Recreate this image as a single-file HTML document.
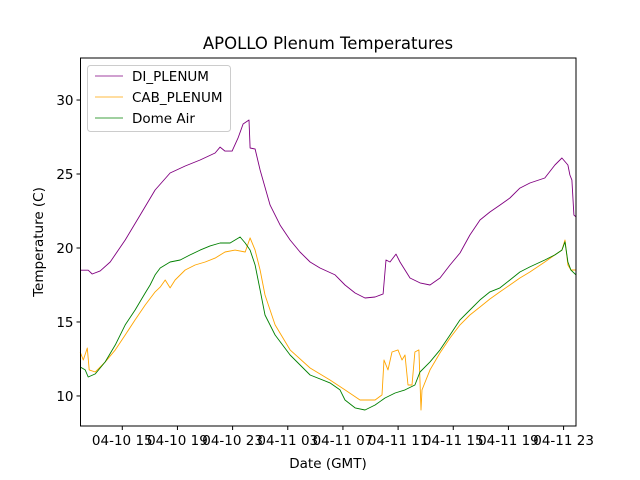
<!DOCTYPE html>
<html><head><meta charset="utf-8"><style>
body{margin:0;background:#fff}
svg{display:block;font-family:"DejaVu Sans","Liberation Sans",sans-serif}
</style></head><body>
<svg id="chart" width="640" height="480">
<rect width="640" height="480" fill="#fff"/>
<text x="328" y="49" text-anchor="middle" font-size="16.5">APOLLO Plenum Temperatures</text>
<g id="marks"></g>
<g id="axes"></g>
<text x="328" y="468" text-anchor="middle" font-size="13.5">Date (GMT)</text>
<text transform="translate(43,242) rotate(-90)" text-anchor="middle" font-size="13.5">Temperature (C)</text>
<g>
<rect x="87.5" y="65.5" width="143" height="66" rx="3" fill="#fff" fill-opacity="0.8" stroke="#ccc"/>
<g><line x1="95" y1="76" x2="123" y2="76" stroke="purple" stroke-width="0.8"/><text x="132" y="81" font-size="13.5">DI_PLENUM</text></g>
<g><line x1="95" y1="97" x2="123" y2="97" stroke="orange" stroke-width="0.8"/><text x="132" y="102" font-size="13.5">CAB_PLENUM</text></g>
<g><line x1="95" y1="118" x2="123" y2="118" stroke="green" stroke-width="0.8"/><text x="132" y="123" font-size="13.5">Dome Air</text></g>
</g>
</svg>
<script>
const diHours=[11.95,12.53,12.82,13.4,14.12,15.21,16.3,17.38,18.47,19.56,20.64,21.73,22.09,22.45,22.96,23.39,23.76,24.19,24.27,24.63,24.99,25.72,26.44,27.17,27.89,28.62,29.34,30.43,31.15,31.88,32.6,33.33,33.91,34.12,34.41,34.85,35.14,35.86,36.59,37.31,38.04,38.76,39.49,40.21,40.94,41.66,42.38,43.11,43.83,44.56,45.64,46.37,46.88,47.31,47.46,47.6,47.75,47.9];
const diTemps=[18.5,18.5,18.24,18.45,19.05,20.54,22.23,23.92,25.07,25.54,25.95,26.42,26.82,26.55,26.55,27.43,28.38,28.65,26.76,26.69,25.27,22.9,21.55,20.54,19.73,19.05,18.65,18.18,17.5,16.96,16.62,16.69,16.89,19.19,19.05,19.59,19.05,17.97,17.64,17.5,17.97,18.85,19.66,20.88,21.89,22.43,22.9,23.38,24.05,24.39,24.73,25.61,26.08,25.61,24.93,24.59,22.23,22.1];
const cabHours=[11.95,12.17,12.46,12.6,13.04,13.76,14.49,15.21,15.93,16.66,17.38,17.75,18.11,18.47,18.83,19.56,20.28,21.01,21.73,22.45,23.18,23.91,24.27,24.63,24.99,25.35,26.08,27.17,28.62,30.06,31.15,32.24,33.33,33.83,33.98,34.27,34.56,34.99,35.28,35.5,35.72,36.01,36.22,36.51,36.66,36.73,37.31,38.04,38.76,39.49,40.21,40.94,41.66,42.38,43.11,43.83,44.56,45.64,46.37,46.88,47.1,47.31,47.53,47.9];
const cabTemps=[12.97,12.43,13.24,11.76,11.62,12.3,13.11,14.12,15.14,16.15,17.03,17.36,17.84,17.3,17.84,18.51,18.85,19.05,19.32,19.73,19.86,19.73,20.68,19.86,18.51,16.82,14.8,13.11,11.89,11.08,10.41,9.73,9.73,10.07,12.43,11.76,12.97,13.11,12.43,12.77,10.74,10.74,12.97,13.11,9.05,10.41,11.76,12.91,13.92,14.8,15.47,16.01,16.55,17.03,17.5,17.97,18.38,19.05,19.53,19.86,20.54,18.85,18.51,18.51];
const domeHours=[11.95,12.31,12.53,13.04,13.76,14.49,15.21,15.93,16.66,17.02,17.38,17.75,18.47,19.2,19.92,20.64,21.37,22.09,22.82,23.54,23.91,24.27,24.63,24.99,25.35,26.08,27.17,28.62,30.06,30.79,31.15,31.88,32.6,33.33,34.05,34.78,35.5,36.22,36.59,37.31,38.04,38.76,39.49,40.21,40.94,41.66,42.38,43.11,43.83,44.56,45.64,46.37,46.88,47.1,47.31,47.53,47.9];
const domeTemps=[11.96,11.76,11.28,11.49,12.3,13.45,14.8,15.81,16.96,17.5,18.18,18.65,19.05,19.19,19.53,19.86,20.14,20.34,20.34,20.74,20.34,19.86,18.85,17.16,15.47,14.12,12.77,11.42,10.88,10.41,9.73,9.19,9.05,9.39,9.86,10.2,10.41,10.74,11.62,12.3,13.11,14.12,15.14,15.81,16.49,17.03,17.3,17.84,18.38,18.72,19.19,19.53,19.86,20.41,19.05,18.51,18.18];
const xTickHours=[15,19,23,27,31,35,39,43,47];
const xTickLabels=["04-10 15","04-10 19","04-10 23","04-11 03","04-11 07","04-11 11","04-11 15","04-11 19","04-11 23"];
const yTicks=[10,15,20,25,30];

const L=80.5,R=576,T=58,B=426,X0=11.97,X1=47.9,Y0=7.97,Y1=32.84;
const sx=h=>L+(h-X0)/(X1-X0)*(R-L);
const sy=v=>B-(v-Y0)/(Y1-Y0)*(B-T);
const NS="http://www.w3.org/2000/svg";
const marks=document.getElementById('marks'),axes=document.getElementById('axes');
function mk(tag,attrs,parent){const e=document.createElementNS(NS,tag);for(const k in attrs)e.setAttribute(k,attrs[k]);parent.appendChild(e);return e;}
function series(hs,vs,color,name){
  const p=mk('polyline',{points:hs.map((h,i)=>sx(h).toFixed(1)+','+sy(vs[i]).toFixed(1)).join(' '),fill:'none',stroke:color,'stroke-width':0.9,'stroke-linejoin':'round'},marks);
  
  
}
series(diHours,diTemps,'purple','di-plenum-line');
series(cabHours,cabTemps,'orange','cab-plenum-line');
series(domeHours,domeTemps,'green','dome-air-line');
const frame=mk('rect',{x:L,y:T,width:R-L,height:B-T,fill:'none',stroke:'#000','stroke-width':1},axes);


xTickHours.forEach((h,i)=>{
  const x=sx(h);
  mk('line',{x1:x,y1:B,x2:x,y2:B+4,stroke:'#000'},axes);
  const t=mk('text',{x:x,y:B+19,'text-anchor':'middle','font-size':13.5},axes);
  t.textContent=xTickLabels[i];
  
  
});
yTicks.forEach(v=>{
  const y=sy(v);
  mk('line',{x1:L-4,y1:y,x2:L,y2:y,stroke:'#000'},axes);
  const t=mk('text',{x:L-7,y:y+5,'text-anchor':'end','font-size':13.5},axes);
  t.textContent=v;
  
  
});
</script>
</body></html>
